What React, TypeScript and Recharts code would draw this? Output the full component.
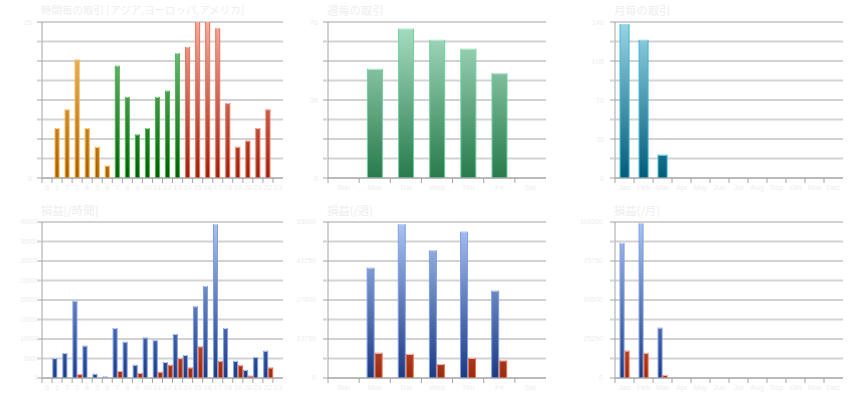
import React from 'react';
import { BarChart, Bar, XAxis, YAxis, CartesianGrid } from 'recharts';

// categories
const HOUR_LABELS = ['0', '1', '2', '3', '4', '5', '6', '7', '8', '9', '10', '11', '12', '13', '14', '15', '16', '17', '18', '19', '20', '21', '22', '23'];
const HOUR_REGIONS = [
  'asia', 'asia', 'asia', 'asia', 'asia', 'asia', 'asia',
  'europe', 'europe', 'europe', 'europe', 'europe', 'europe', 'europe',
  'america', 'america', 'america', 'america', 'america', 'america', 'america', 'america', 'america', 'america',
];
const WEEK_LABELS = ['Sun', 'Mon', 'Tue', 'Wed', 'Thu', 'Fri', 'Sat'];
const MONTH_LABELS = ['Jan', 'Feb', 'Mar', 'Apr', 'May', 'Jun', 'Jul', 'Aug', 'Sep', 'Oct', 'Nov', 'Dec'];

// trade counts
const HOURLY_TRADES = [0, 8, 11, 19, 8, 5, 2, 18, 13, 7, 8, 13, 14, 20, 21, 25, 25, 24, 12, 5, 6, 8, 11, 0];
const WEEKLY_TRADES = [0, 49, 67, 62, 58, 47, 0];
const MONTHLY_TRADES = [138, 124, 21, 0, 0, 0, 0, 0, 0, 0, 0, 0];

// profit / loss
const HOURLY_PROFIT = [0, 5100, 6400, 19800, 8300, 1100, 400, 12800, 9300, 3400, 10400, 9700, 4100, 11300, 5900, 18400, 23600, 39400, 12800, 4400, 2100, 5400, 7000, 0];
const HOURLY_LOSS = [0, 0, 0, 1000, 0, 0, 0, 1800, 0, 1300, 0, 1600, 3400, 5100, 2700, 8100, 0, 4400, 0, 3300, 600, 0, 2700, 0];
const WEEKLY_PROFIT = [0, 38900, 54200, 45000, 51600, 30800, 0];
const WEEKLY_LOSS = [0, 8900, 8500, 4900, 7100, 6200, 0];
const MONTHLY_PROFIT = [87400, 100100, 32600, 0, 0, 0, 0, 0, 0, 0, 0, 0];
const MONTHLY_LOSS = [17700, 16200, 1900, 0, 0, 0, 0, 0, 0, 0, 0, 0];

// y tick labels
const HOURLY_TRADE_TICKS = [0, 25];
const WEEKLY_TRADE_TICKS = [0, 35, 70];
const MONTHLY_TRADE_TICKS = [0, 35, 70, 105, 140];
const HOURLY_PNL_TICKS = [0, 5000, 10000, 15000, 20000, 25000, 30000, 35000, 40000];
const WEEKLY_PNL_TICKS = [0, 13750, 27500, 41250, 55000];
const MONTHLY_PNL_TICKS = [0, 25250, 50500, 75750, 101000];

const GRID_DARK = '#a4a4a4';
const GRID_LIGHT = '#d3d3d3';
const TEXT = '#eeeeee';
const FONT = '"Liberation Sans", Arial, sans-serif';
const CJK = '"Noto Sans CJK JP", "Liberation Sans", sans-serif';

// [top, bottom, outline]
const PALETTE: Record<string, string[]> = {
  asia: ['#f8c87c', '#a65e00', '#f6b040'],
  europe: ['#88cc8e', '#005e00', '#4fb455'],
  america: ['#f4ae9c', '#981f08', '#ee6e5c'],
  week: ['#aadfc4', '#287a4c', '#6fd0a0'],
  month: ['#9ad6e6', '#005c7a', '#3eb6d6'],
  profit: ['#acc4f2', '#1a3a82', '#7e9ee6'],
  loss: ['#ffb090', '#9a2a0c', '#ee6e52'],
};

type Series = { key: string; values: number[]; color?: string };

type PanelDef = {
  id: string;
  title: string;
  titleSize: number;
  left: number;
  top: number;
  width: number;
  plotLeft: number;
  plotRight: number;
  plotTop: number;
  plotBottom: number;
  labels: string[];
  max: number;
  yTicks: number[];
  yFont: number;
  yGap: number;
  series: Series[];
  regions?: string[];
  gap: string;
};

const PANELS: PanelDef[] = [
  {
    id: 'p1', title: '時間毎の取引 [アジア,ヨーロッパ,アメリカ]', titleSize: 10.5,
    left: 0, top: 0, width: 290, plotLeft: 42, plotRight: 283, plotTop: 22, plotBottom: 178,
    labels: HOUR_LABELS, max: 25, yTicks: HOURLY_TRADE_TICKS, yFont: 7.5, yGap: 10,
    series: [{ key: 'v', values: HOURLY_TRADES }], regions: HOUR_REGIONS, gap: '25%',
  },
  {
    id: 'p2', title: '週毎の取引', titleSize: 11.3,
    left: 290, top: 0, width: 280, plotLeft: 328, plotRight: 546, plotTop: 22, plotBottom: 178,
    labels: WEEK_LABELS, max: 70, yTicks: WEEKLY_TRADE_TICKS, yFont: 7.5, yGap: 10,
    series: [{ key: 'v', values: WEEKLY_TRADES, color: 'week' }], gap: '25%',
  },
  {
    id: 'p3', title: '月毎の取引', titleSize: 11.3,
    left: 570, top: 0, width: 290, plotLeft: 615, plotRight: 843, plotTop: 22, plotBottom: 178,
    labels: MONTH_LABELS, max: 140, yTicks: MONTHLY_TRADE_TICKS, yFont: 7.5, yGap: 11,
    series: [{ key: 'v', values: MONTHLY_TRADES, color: 'month' }], gap: '24%',
  },
  {
    id: 'p4', title: '損益[/時間]', titleSize: 11.3,
    left: 0, top: 200, width: 290, plotLeft: 42, plotRight: 283, plotTop: 222, plotBottom: 378,
    labels: HOUR_LABELS, max: 40000, yTicks: HOURLY_PNL_TICKS, yFont: 6.3, yGap: 4,
    series: [{ key: 'profit', values: HOURLY_PROFIT, color: 'profit' }, { key: 'loss', values: HOURLY_LOSS, color: 'loss' }],
    gap: '3%',
  },
  {
    id: 'p5', title: '損益(/週)', titleSize: 11.3,
    left: 290, top: 200, width: 280, plotLeft: 328, plotRight: 546, plotTop: 222, plotBottom: 378,
    labels: WEEK_LABELS, max: 55000, yTicks: WEEKLY_PNL_TICKS, yFont: 7, yGap: 12,
    series: [{ key: 'profit', values: WEEKLY_PROFIT, color: 'profit' }, { key: 'loss', values: WEEKLY_LOSS, color: 'loss' }],
    gap: '24%',
  },
  {
    id: 'p6', title: '損益(/月)', titleSize: 11.3,
    left: 570, top: 200, width: 290, plotLeft: 615, plotRight: 843, plotTop: 222, plotBottom: 378,
    labels: MONTH_LABELS, max: 101000, yTicks: MONTHLY_PNL_TICKS, yFont: 7, yGap: 12,
    series: [{ key: 'profit', values: MONTHLY_PROFIT, color: 'profit' }, { key: 'loss', values: MONTHLY_LOSS, color: 'loss' }],
    gap: '24%',
  },
];

function Panel({ p }: { p: PanelDef }) {
  const height = 200;
  const yWidth = p.plotLeft - p.left;
  const xHeight = p.top + height - p.plotBottom;
  const band = (p.plotRight - p.plotLeft) / p.labels.length;
  const steps = [0, 1, 2, 3, 4, 5, 6, 7, 8].map((i) => (p.max * i) / 8);
  const data = p.labels.map((name, i) => {
    const row: any = { name, region: p.regions ? p.regions[i] : null };
    p.series.forEach((s) => { row[s.key] = s.values[i]; });
    return row;
  });
  const gradId = (c: string) => `${p.id}-${c}`;
  const colors = Object.keys(PALETTE);

  const shape = (color?: string) => (props: any) => {
    const { x, y, width, height: h, payload } = props;
    if (!h || h <= 0) return <g />;
    const c = color || payload.region;
    return (
      <g>
        <rect x={x + 0.5} y={y + 0.5} width={width - 1} height={h - 0.5}
          fill={`url(#${gradId(c)})`} stroke={PALETTE[c][2]} strokeWidth={1} />
        <line x1={x + 1} x2={x + width - 1} y1={y + 0.5} y2={y + 0.5} stroke="#ffffff" strokeOpacity={0.55} />
      </g>
    );
  };

  const yTick = (props: any) => {
    const { x, y, payload, index } = props;
    const major = index % 2 === 0;
    return (
      <g>
        <line x1={x - 5} x2={x} y1={y} y2={y} stroke={major ? GRID_DARK : GRID_LIGHT} strokeWidth={major ? 1 : 2} />
        {p.yTicks.includes(payload.value) && (
          <text x={x - p.yGap} y={y} dy="0.35em" textAnchor="end" fontSize={p.yFont} fontFamily={FONT} fill={TEXT}>
            {payload.value}
          </text>
        )}
      </g>
    );
  };

  const xTick = (props: any) => {
    const { x, y, payload } = props;
    const bx = x - band / 2;
    return (
      <g>
        <line x1={bx} x2={bx} y1={y} y2={y + 5} stroke={GRID_DARK} />
        <text x={x} y={y + 12} textAnchor="middle" fontSize={7.5} fontFamily={FONT} fill={TEXT}>
          {payload.value}
        </text>
      </g>
    );
  };

  return (
    <div style={{ position: 'absolute', left: p.left, top: p.top, width: p.width, height }}>
      <div style={{
        position: 'absolute', left: p.plotLeft - p.left - 1, top: p.plotTop - p.top - 19,
        fontSize: p.titleSize, lineHeight: '14px', fontFamily: CJK, color: TEXT, whiteSpace: 'nowrap',
      }}>
        {p.title}
      </div>
      <BarChart
        width={p.width}
        height={height}
        data={data}
        margin={{ top: p.plotTop - p.top, right: p.left + p.width - p.plotRight, left: 0, bottom: 0 }}
        barCategoryGap={p.gap}
        barGap={0}
      >
        <defs>
          {colors.map((c) => (
            <linearGradient key={c} id={gradId(c)} gradientUnits="userSpaceOnUse"
              x1="0" x2="0" y1={p.plotTop - p.top} y2={p.plotBottom - p.top}>
              <stop offset="0%" stopColor={PALETTE[c][0]} />
              <stop offset="100%" stopColor={PALETTE[c][1]} />
            </linearGradient>
          ))}
        </defs>
        <CartesianGrid vertical={false} horizontalValues={steps.filter((_, i) => i % 2 === 1)}
          stroke={GRID_LIGHT} strokeWidth={2} />
        <CartesianGrid vertical={false} horizontalValues={steps.filter((_, i) => i % 2 === 0)}
          stroke={GRID_DARK} strokeWidth={1} />
        <XAxis dataKey="name" interval={0} tickSize={0} tickMargin={0} height={xHeight}
          axisLine={{ stroke: GRID_DARK }} tickLine={false} tick={xTick} />
        <YAxis type="number" domain={[0, p.max]} ticks={steps} interval={0} tickSize={0} tickMargin={0}
          width={yWidth} axisLine={{ stroke: GRID_DARK }} tickLine={false} tick={yTick} allowDataOverflow />
        {p.series.map((s) => (
          <Bar key={s.key} dataKey={s.key} isAnimationActive={false} shape={shape(s.color)} />
        ))}
      </BarChart>
    </div>
  );
}

export default function App() {
  return (
    <div style={{ position: 'absolute', left: 0, top: 0, width: 860, height: 400, background: '#ffffff' }}>
      {PANELS.map((p) => (
        <Panel key={p.id} p={p} />
      ))}
    </div>
  );
}
